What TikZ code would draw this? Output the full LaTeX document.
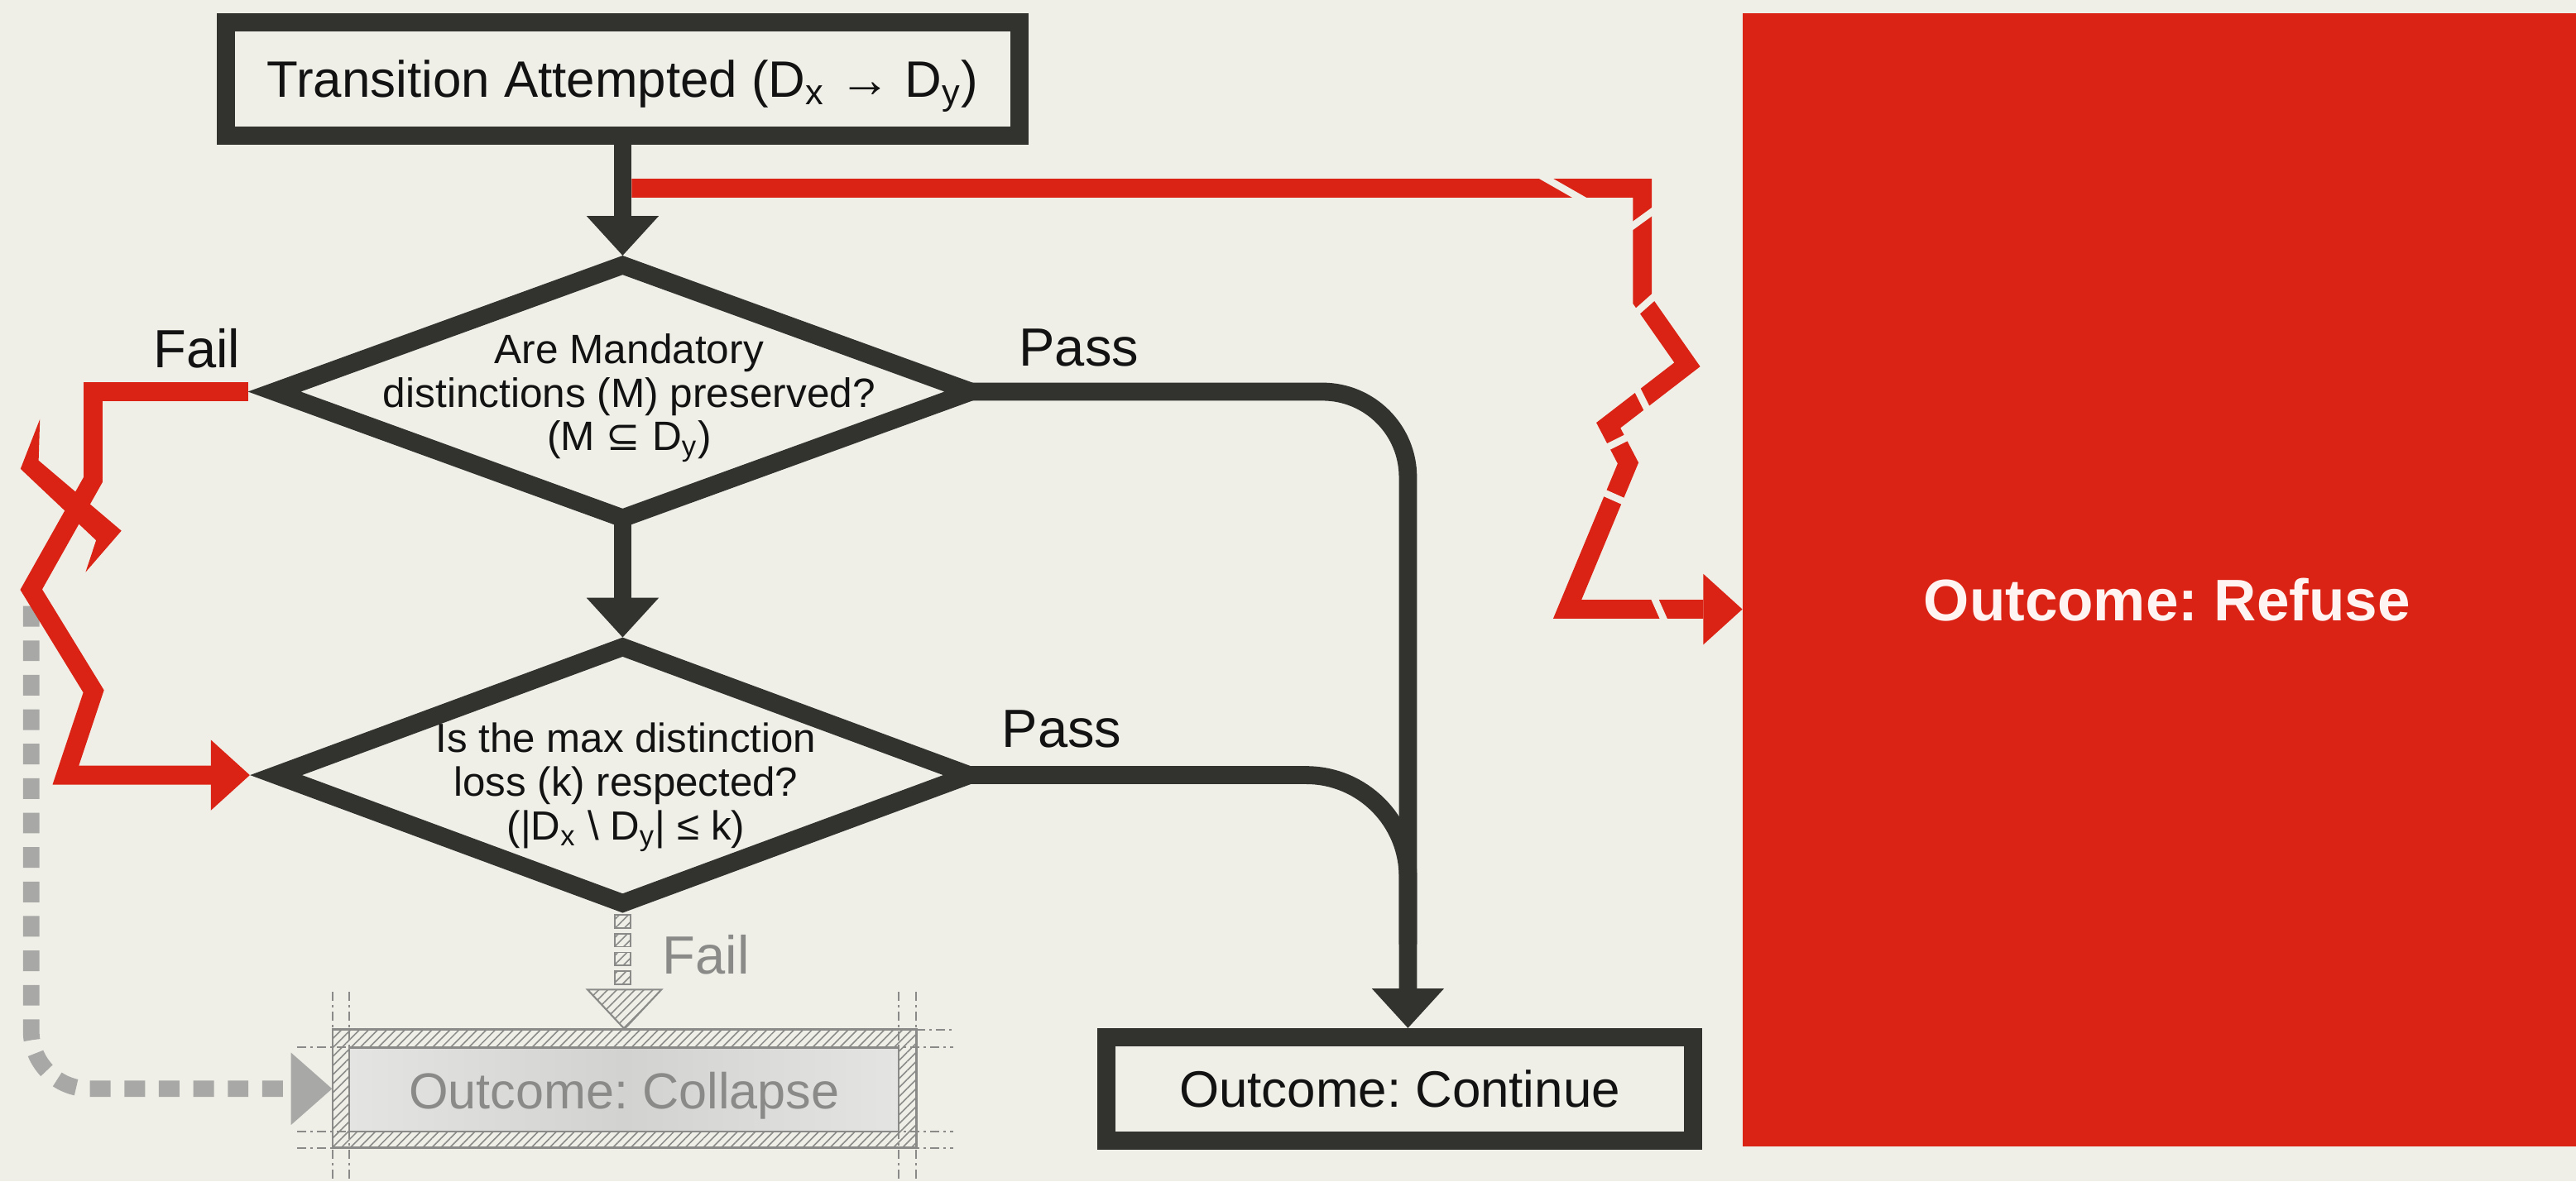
\documentclass[tikz,border=0pt]{standalone}
\usepackage{fontspec}
\setmainfont{Liberation Sans}
\newfontfamily\mathsymfont{DejaVu Sans}
\usetikzlibrary{arrows.meta,calc,shapes.geometric,patterns.meta}
\frenchspacing

\definecolor{paper}{RGB}{239,239,232}
\definecolor{ink}{RGB}{50,50,47}
\definecolor{textink}{RGB}{18,18,18}
\definecolor{alarm}{RGB}{218,35,20}
\definecolor{alarmtext}{RGB}{255,244,242}
\definecolor{ghost}{RGB}{138,138,136}
\definecolor{ghostdash}{RGB}{168,168,166}
\definecolor{ghostfill}{RGB}{210,210,208}
\definecolor{ghostfilledge}{RGB}{228,228,226}

\tikzset{
  procbox/.style={draw=ink, line width=6.2pt, fill=paper, inner sep=0pt, text=textink,
    font=\fontsize{17.6}{20}\selectfont, text depth=0pt},
  decision/.style={shape=diamond, draw=ink, line width=6.2pt, fill=paper, inner sep=0pt, outer sep=0pt},
  question/.style={align=center, text=textink, font=\fontsize{14.1}{14.9}\selectfont, inner sep=0pt},
  branchlabel/.style={text=textink, font=\fontsize{18.5}{20}\selectfont, inner sep=0pt, anchor=base west},
  flowline/.style={draw=ink, line width=6.2pt},
  flowhead/.style={-{Triangle[width=24.85pt,length=13.6pt,line width=0pt]}},
  alarmline/.style={draw=alarm, line width=6.5pt, miter limit=10},
  alarmhead/.style={-{Triangle[width=24.3pt,length=13.4pt,line width=0pt]}},
  crack/.style={draw=paper, line width=2.4pt},
  ghostflow/.style={draw=ghostdash, line width=5.65pt, dash pattern=on 7.1pt off 4.75pt,
    rounded corners=19.8pt, -{Triangle[width=24.85pt,length=14.1pt,line width=0pt]}},
  hatch/.style={pattern={Lines[angle=45,distance=2.2pt,line width=0.45pt]}, pattern color=ghost},
  guide/.style={draw=ghost, line width=0.55pt, dash pattern=on 3pt off 1.5pt on 0.8pt off 1.5pt},
}

\begin{document}
\begin{tikzpicture}[x=0.01985cm,y=-0.01985cm]
\fill[paper] (0,0) rectangle (1568,719.3);
\useasboundingbox (0,0) rectangle (1568,719.3);

% outcome: refuse
\node[fill=alarm, inner sep=0pt, outer sep=0pt, minimum width=286.6pt, minimum height=389.7pt] (refuse) at (1314.25,353) {};
\node[text=alarmtext, font=\bfseries\fontsize{20.2}{22}\selectfont, anchor=base, inner sep=0pt] (refuselabel) at (1319,378) {Outcome: Refuse};

% process boxes
\node[procbox, minimum width=272.8pt, minimum height=39pt] (start) at (379,48)
  {Transition Attempted (D\textsubscript{x} → D\textsubscript{y})};
\node[procbox, minimum width=201.6pt, minimum height=35.6pt] (continue) at (852,663) {Outcome: Continue};

% decisions
\node[decision, minimum width=239.5pt, minimum height=87pt] (d1) at (379,238.5) {};
\node[question] (d1q) at (383,242.5)
  {Are Mandatory\\distinctions (M) preserved?\\(M {\mathsymfont ⊆} D\textsubscript{y})};
\node[decision, minimum width=238.3pt, minimum height=88.1pt] (d2) at (379,472) {};
\node[question, font=\fontsize{14}{15}\selectfont] (d2q) at (381,479.5)
  {Is the max distinction\\loss (k) respected?\\(|D\textsubscript{x} \textbackslash{} D\textsubscript{y}| ≤ k)};

% branch labels
\node[branchlabel] (fail1) at (93,224) {Fail};
\node[branchlabel] (pass1) at (620,223) {Pass};
\node[branchlabel] (pass2) at (609.5,455) {Pass};
\node[branchlabel, text=ghost] (fail2) at (403,593) {Fail};

% outcome: collapse (faded, hatched frame)
\node[draw=ghost, line width=0.8pt, hatch, inner sep=0pt, minimum width=200.6pt, minimum height=40.7pt] (collapse) at (380.1,663) {};
\shade[left color=ghostfilledge, right color=ghostfilledge, middle color=ghostfill] (212.6,637.8) rectangle (547,689);
\draw[ghost, line width=0.8pt] (212.6,637.8) rectangle (547,689);
\node[text=ghost, font=\fontsize{17.4}{20}\selectfont, text depth=0pt, inner sep=0pt] (collapselabel) at (380,664) {Outcome: Collapse};
\draw[guide] (202.5,604) -- (202.5,719.3);
\draw[guide] (212.6,604) -- (212.6,719.3);
\draw[guide] (547,604) -- (547,719.3);
\draw[guide] (557.7,604) -- (557.7,719.3);
\draw[guide] (557.7,627) -- (580,627);
\draw[guide] (181,637.8) -- (580,637.8);
\draw[guide] (181,689) -- (580,689);
\draw[guide] (181,699) -- (580,699);

% hatched fail connector into collapse
\foreach \k in {0,1,2,3}
  \draw[ghost, line width=0.5pt, hatch] ($(d2.south)+(-4.75,7+11.5*\k)$) rectangle ++(9.5,8);
\draw[ghost, line width=0.6pt, hatch] ($(collapse.north)+(-22.5,-24)$) -- ($(collapse.north)+(22.5,-24)$) -- (collapse.north) -- cycle;

% dashed grey route into collapse
\coordinate (ghoststart) at (19,369);
\draw[ghostflow] (ghoststart) -- (19,663) -- (collapse.west);

% red refuse route with cracks
\coordinate (fork) at (384.5,114.6);
\coordinate (refusein) at (954,371);
\draw[alarmline, alarmhead] (fork) -- (999.7,114.6) -- (999.7,183) -- (1027,222) -- (979,259)
  -- (991,282) -- (refusein) -- (refusein -| refuse.west);
\draw[crack] (938,107) -- (966,123);
\draw[crack] (989,141) -- (1011,125);
\draw[crack] (994,192) -- (1012,176);
\draw[crack] (996,236) -- (1004,252);
\draw[crack] (975,274) -- (991,266);
\draw[crack] (974,299) -- (992,307);
\draw[crack] (1006,362) -- (1014,380);

% red fail route from the first check to the second
\draw[alarmline, alarmhead] ($(d1.west)+(-16,0)$) -- (56.7,238.5) -- (56.7,292) -- (19,359)
  -- (57,421) -- (40,472) -- ($(d2.west)+(-16,0)$);
\fill[alarm] (24.3,255.2) -- (23.5,280.4) -- (73.9,323.2) -- (52.1,348.4) -- (58.5,329) -- (12.5,285.5) -- cycle;

% main flow
\draw[flowline, flowhead] (start.south) -- ($(d1.north)+(0,-5.9)$);
\draw[flowline, flowhead] (d1.south) -- ($(d2.north)+(0,-5.9)$);
\draw[flowline, flowhead, rounded corners=29.4pt] (d1.east) -| ($(continue.north)+(5,0)$);
\coordinate (merge) at (857,575);
\draw[flowline, rounded corners=35pt] (d2.east) -| (merge);
\end{tikzpicture}
\end{document}
